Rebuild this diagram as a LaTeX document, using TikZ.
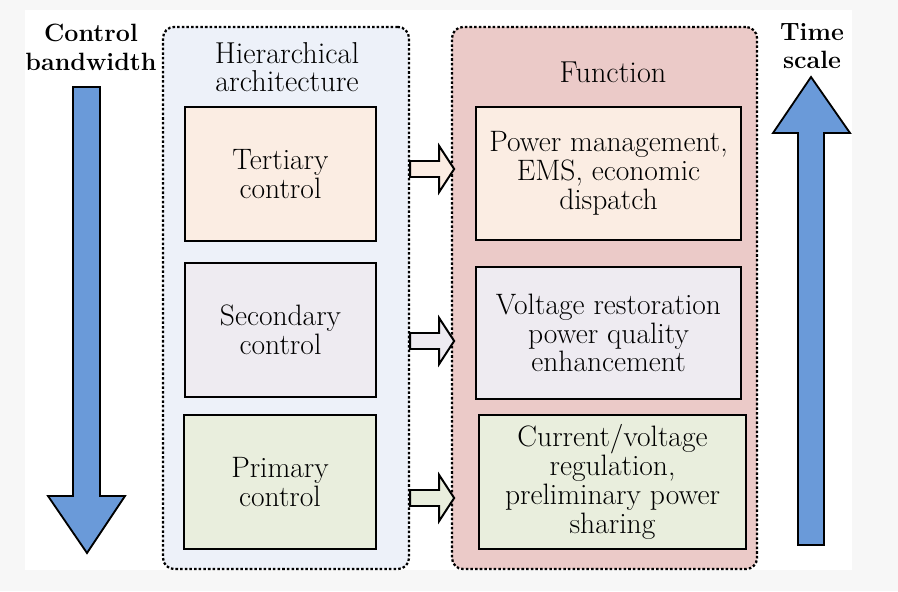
\documentclass[tikz,border=0pt]{standalone}
\usepackage{tikz}

\definecolor{pagegray}{HTML}{F7F7F7}
\definecolor{hierfill}{HTML}{EDF1F9}
\definecolor{funcfill}{HTML}{EBCAC8}
\definecolor{tertfill}{HTML}{FBEDE3}
\definecolor{secfill}{HTML}{EEEBF1}
\definecolor{primfill}{HTML}{E9EEDD}
\definecolor{bandblue}{HTML}{6A9AD9}

\begin{document}
\begin{tikzpicture}[x=0.025cm,y=-0.025cm]
	\tikzset{
		group/.style={draw, dash pattern=on 1.8pt off 1.5pt, line width=1.6pt, rounded corners=8pt},
		level/.style={draw, line width=1.4pt, align=center, inner sep=2pt,
			font=\fontsize{21}{20.5}\selectfont},
		title/.style={align=center, font=\fontsize{21.5}{19.5}\selectfont},
		axis/.style={align=center, font=\fontsize{17.8}{20.5}\selectfont\bfseries},
		bigarrow/.style={draw, fill=bandblue, line width=1.3pt, line join=miter},
		blockarrow/.pic={\draw[line width=1.4pt, line join=miter, fill=#1]
			(0,-8) -- (29,-8) -- (29,-23) -- (44,0) -- (29,23) -- (29,8) -- (0,8) -- cycle;}}
	\useasboundingbox (0,0) rectangle (898,591);
	\fill[pagegray] (0,0) rectangle (898,591);
	\fill[white] (25,10) rectangle (852,570);
	\node[group, fill=hierfill, minimum width=6.15cm, minimum height=13.55cm](hier) at (286,298){};
	\node[group, fill=funcfill, minimum width=7.625cm, minimum height=13.55cm](func) at (604.5,298){};
	\node[title](hiertitle) at (287,67){Hierarchical\\architecture};
	\node[title](functitle) at (613,72){Function};
	\node[level, fill=tertfill, minimum width=4.775cm, minimum height=3.35cm](tert) at (280.5,174){Tertiary\\control};
	\node[level, fill=secfill, minimum width=4.775cm, minimum height=3.35cm](sec) at (280.5,330){Secondary\\control};
	\node[level, fill=primfill, minimum width=4.8cm, minimum height=3.35cm](prim) at (280,482){Primary\\control};
	\node[level, fill=tertfill, minimum width=6.625cm, minimum height=3.325cm](pwr) at (608.5,173.5){Power management,\\EMS, economic\\dispatch};
	\node[level, fill=secfill, minimum width=6.625cm, minimum height=3.3cm](volt) at (608.5,333){Voltage restoration\\power quality\\enhancement};
	\node[level, fill=primfill, minimum width=6.675cm, minimum height=3.35cm](curr) at (612.5,482){Current/voltage\\regulation,\\preliminary power\\sharing};
	\pic at (hier.east |- 0,169) {blockarrow=tertfill};
	\pic at (hier.east |- 0,341) {blockarrow=secfill};
	\pic at (hier.east |- 0,498) {blockarrow=primfill};
	\node[axis](bw) at (91,47){Control\\bandwidth};
	\node[axis](ts) at (812,46){Time\\scale};
	\draw[bigarrow] (73,87) -- (100,87) -- (100,496) -- (125,496) -- (87,553) -- (48,496) -- (73,496) -- cycle;
	\draw[bigarrow] (798,545) -- (798,133) -- (773,133) -- (811,77) -- (850,133) -- (824,133) -- (824,545) -- cycle;
\end{tikzpicture}
\end{document}
